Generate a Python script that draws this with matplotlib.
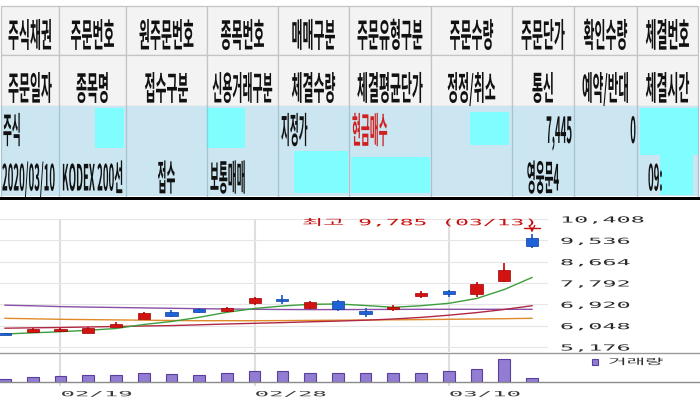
import matplotlib
matplotlib.use('Agg')
import matplotlib.pyplot as plt
import numpy as np
from matplotlib.patches import Rectangle
from matplotlib.lines import Line2D
from matplotlib.transforms import Affine2D
from matplotlib.patheffects import AbstractPathEffect
from matplotlib.ticker import FuncFormatter

# ---------------- data ----------------
header_row1 = ['주식채권', '주문번호', '원주문번호', '종목번호', '매매구분',
               '주문유형구분', '주문수량', '주문단가', '확인수량', '체결번호']
header_row2 = ['주문일자', '종목명', '접수구분', '신용거래구분', '체결수량',
               '체결평균단가', '정정/취소', '통신', '예약/반대', '체결시간']
data_row1 = ['주식', '', '', '', '지정가', '현금매수', '', '7,445', '0', '']
data_row2 = ['2020/03/10', 'KODEX 200선', '접수', '보통매매', '', '', '', '영웅문4', '', '09:']

dates = ['02/17', '02/18', '02/19', '02/20', '02/21', '02/24', '02/25', '02/26', '02/27', '02/28',
         '03/02', '03/03', '03/04', '03/05', '03/06', '03/09', '03/10', '03/11', '03/12', '03/13']
opens = [5715, 5790, 5850, 5745, 6040, 6330, 6610, 6670, 6650, 6960,
         7110, 6760, 7060, 6610, 6710, 7250, 7420, 7340, 7880, 9620]
highs = [5760, 5950, 6000, 6010, 6185, 6600, 6680, 6770, 6800, 7230,
         7300, 7060, 7100, 6760, 6880, 7470, 7520, 7850, 8600, 9785]
lows = [5660, 5780, 5790, 5740, 5980, 6320, 6410, 6560, 6620, 6900,
        6930, 6720, 6660, 6420, 6660, 7170, 7200, 7230, 7850, 9230]
closes = [5700, 5920, 5880, 5960, 6080, 6570, 6430, 6650, 6760, 7160,
          7090, 7020, 6730, 6590, 6830, 7400, 7380, 7740, 8320, 9290]
volume = [340, 500, 570, 670, 670, 940, 800, 740, 870, 1070,
          1070, 940, 940, 870, 870, 940, 1070, 1270, 2340, 440]
ma_green = [5707, 5756, 5801, 5859, 5932, 6096, 6218, 6390, 6594, 6750,
            6852, 6921, 6934, 6872, 6799, 6864, 6962, 7158, 7526, 8017]
ma_maroon = [5944, 5961, 5973, 5994, 6014, 6034, 6051, 6083, 6116, 6145,
             6173, 6206, 6235, 6271, 6320, 6386, 6476, 6582, 6709, 6864]
ma_orange = [6349, 6329, 6308, 6296, 6284, 6272, 6259, 6251, 6251, 6251,
             6255, 6263, 6272, 6280, 6288, 6296, 6308, 6321, 6333, 6349]
ma_purple = [6885, 6860, 6827, 6807, 6791, 6774, 6758, 6742, 6729, 6717,
             6709, 6705, 6705, 6709, 6713, 6717, 6717, 6717, 6717, 6717]
price_ticks = [5176, 6048, 6920, 7792, 8664, 9536, 10408]
date_ticks = ['02/19', '02/28', '03/10']
volume_label = '거래량'
high_label = '최고'

plt.rcParams['font.family'] = ['Noto Sans CJK KR', 'DejaVu Sans']


# ---------------- helpers ----------------
class Stretch(AbstractPathEffect):
    """Draws text scaled horizontally/vertically about its baseline."""
    def __init__(self, sx=1.0, sy=1.0, anchor='left'):
        super().__init__()
        self.sx, self.sy, self.anchor = sx, sy, anchor

    def draw_path(self, renderer, gc, tpath, affine, rgbFace=None):
        cx = 0.0
        if self.anchor != 'left':
            ext = tpath.get_extents()
            cx = (ext.x0 + ext.x1) / 2 if self.anchor == 'center' else ext.x1
        t = Affine2D().translate(-cx, 0).scale(self.sx, self.sy).translate(cx, 0)
        renderer.draw_path(gc, tpath, t + affine, rgbFace)


W, H = 700, 400
fig = plt.figure(figsize=(7, 4), dpi=100)
fig.patch.set_facecolor('white')

# ---------------- table (pixel layout) ----------------
bg = fig.add_axes([0, 0, 1, 1])
bg.set_xlim(0, W)
bg.set_ylim(H, 0)
bg.axis('off')

COL_X = [1, 59, 126, 207, 278, 349, 431, 512, 574, 637, 698]
ROW_Y = [6, 55, 106, 196]
HEAD_BG, HEAD_LINE = '#f3f3f3', '#c4c4c4'
DATA_BG, DATA_LINE = '#cbe6f1', '#a6c4d0'
MASK = '#80fdff'

for r in range(2):
    for c in range(10):
        bg.add_patch(Rectangle((COL_X[c], ROW_Y[r]), COL_X[c + 1] - COL_X[c],
                               ROW_Y[r + 1] - ROW_Y[r], fc=HEAD_BG, ec=HEAD_LINE, lw=0.9))
bg.add_patch(Rectangle((COL_X[0], ROW_Y[2]), COL_X[-1] - COL_X[0], ROW_Y[3] - ROW_Y[2],
                       fc=DATA_BG, ec='none'))
for xe in COL_X:
    bg.plot([xe, xe], [ROW_Y[2], ROW_Y[3]], color=DATA_LINE, lw=0.9)

masks = [(95, 108, 124, 148), (206, 108, 245, 148), (294, 151, 348, 193),
         (351, 157, 430, 193), (470, 112, 509, 145), (640, 108, 698, 155),
         (660, 155, 693, 195)]
for x0, y0, x1, y1 in masks:
    bg.add_patch(Rectangle((x0, y0), x1 - x0, y1 - y0, fc=MASK, ec='none'))

bg.add_patch(Rectangle((0, 196.5), W, 3.5, fc='black', ec='none'))

HEAD_SIZE, HEAD_SY = 8.6, 2.8
for r, row in enumerate([header_row1, header_row2]):
    base = [47.0, 100.0][r]
    for c, s in enumerate(row):
        colw = COL_X[c + 1] - COL_X[c]
        sx = min(1.0, (colw - 5) / (len(s) * 12.0))
        bg.text((COL_X[c] + COL_X[c + 1]) / 2, base, s, ha='center', va='baseline',
                fontsize=HEAD_SIZE, color='#111111', fontweight='bold',
                path_effects=[Stretch(sx, HEAD_SY, 'center')])

DATA_SIZE, DATA_SX, DATA_SY = 7.4, 0.94, 3.5
align1 = ['left', None, None, None, 'left', 'left', None, 'right', 'right', None]
align2 = ['left', 'left', 'center', 'left', None, None, None, 'center', None, 'left']
pads2 = [1, 3, 0, 3, 0, 0, 0, 0, 0, 11]
for row, aligns, base, pads in [(data_row1, align1, 143.0, [2, 0, 0, 0, 3, 3, 0, 2, 1, 0]),
                                (data_row2, align2, 190.5, pads2)]:
    for c, s in enumerate(row):
        if not s:
            continue
        a = aligns[c]
        if a == 'left':
            x = COL_X[c] + pads[c]
        elif a == 'right':
            x = COL_X[c + 1] - pads[c]
        else:
            x = (COL_X[c] + COL_X[c + 1]) / 2
        col = '#d02020' if s == '현금매수' else '#111111'
        bg.text(x, base, s, ha=a, va='baseline', fontsize=DATA_SIZE, color=col,
                fontweight='bold', path_effects=[Stretch(DATA_SX, DATA_SY, a)])

# ---------------- chart ----------------
def fax(x0, y0, x1, y1):
    return fig.add_axes([x0 / W, 1 - y1 / H, (x1 - x0) / W, (y1 - y0) / H])

n = len(dates)
idx = np.arange(n)
o, hi, lo, c = map(np.asarray, (opens, highs, lows, closes))
STEP, X0 = 27.737, 5.0
xlim = (-X0 / STEP, (548 - X0) / STEP)
date_idx = [dates.index(d) for d in date_ticks]

axp = fax(0, 219, 548, 352)
axv = fax(0, 354, 548, 382)
for a in (axp, axv):
    a.set_xlim(*xlim)
    a.set_facecolor('none')
    for sp in a.spines.values():
        sp.set_visible(False)
    a.set_axisbelow(True)

axp.set_ylim(4971.6, 10408)
axp.set_yticks(price_ticks)
axp.set_xticks(date_idx)
axp.grid(axis='y', color='#e6e6e6', lw=0.8)
axp.grid(axis='x', color='#dedede', lw=1.5)
axp.tick_params(axis='x', length=0, labelbottom=False)
axp.yaxis.tick_right()
axp.yaxis.set_major_formatter(FuncFormatter(lambda v, p: f'{int(round(v)):,}'))
axp.tick_params(axis='y', length=0, pad=8.6, labelsize=6, labelcolor='#2a2a2a')
for lbl in axp.get_yticklabels():
    lbl.set_family('DejaVu Sans Mono')
    lbl.set_path_effects([Stretch(2.82, 1.0, 'left')])

# moving averages
axp.plot(idx, ma_purple, color='#8a4fa6', lw=1.0, zorder=2)
axp.plot(idx, ma_orange, color='#e08a2a', lw=1.0, zorder=2)
axp.plot(idx, ma_maroon, color='#b02844', lw=1.0, zorder=2)
axp.plot(idx, ma_green, color='#3c9e3c', lw=1.0, zorder=2)

# candles
RED, RED_E = '#d31212', '#a00000'
BLUE, BLUE_E = '#1f62d8', '#0a3e9c'
up = c >= o
fc = np.where(up, RED, BLUE)
ec = np.where(up, RED_E, BLUE_E)
axp.vlines(idx, lo, hi, colors=fc, lw=1.3, zorder=3)
MINB = 110
diff = np.abs(c - o)
bh = np.maximum(diff, MINB)
bb = np.where(diff < MINB, (o + c) / 2 - MINB / 2, np.minimum(o, c))
axp.bar(idx, bh, bottom=bb, width=0.44, color=fc, edgecolor=ec, lw=0.5, zorder=4)

# high annotation
k = int(np.argmax(hi))
axp.annotate(f'{high_label} {hi[k]:,} ({dates[k]})', xy=(k, hi[k]), xytext=(-230, 9),
             textcoords='offset pixels', ha='left', va='baseline', fontsize=6,
             color='#c81010', family=['DejaVu Sans Mono', 'Noto Sans CJK KR'],
             path_effects=[Stretch(2.76, 1.05, 'left')], annotation_clip=False)
axp.annotate('', xy=(k, hi[k]), xytext=(0, 6.5), textcoords='offset pixels',
             arrowprops=dict(arrowstyle=']->, widthA=0.6, lengthA=0', color='#c81010',
                             lw=1.0, shrinkA=0, shrinkB=1.2), annotation_clip=False)

# volume
axv.set_ylim(0, 2800)
axv.set_yticks([])
vbars = axv.bar(idx, volume, width=0.42, color='#937dd2', edgecolor='#5b3f9f', lw=0.8, zorder=3)
axv.set_xticks(date_idx, date_ticks)
axv.grid(axis='x', color='#dedede', lw=1.5)
axv.tick_params(axis='x', length=3, width=1.5, color='#dedede', pad=2.2,
                labelsize=6, labelcolor='#3a3a3a')
for lbl in axv.get_xticklabels():
    lbl.set_ha('left')
    lbl.set_family('DejaVu Sans Mono')
    lbl.set_path_effects([Stretch(2.88, 0.85, 'left')])

leg = axv.legend([vbars], [volume_label], loc='center left',
                 bbox_to_anchor=(592 / W, 1 - 362 / H), bbox_transform=fig.transFigure,
                 frameon=False, handlelength=0.75, handleheight=0.75, handletextpad=1.2,
                 borderpad=0, borderaxespad=0, prop={'family': 'Noto Sans CJK KR', 'size': 6})
for t in leg.get_texts():
    t.set_color('#333333')
    t.set_path_effects([Stretch(2.4, 1.0, 'left')])

# panel lines
fig.add_artist(Line2D([0, 1], [1 - 353 / H] * 2, transform=fig.transFigure, color='#9a9a9a', lw=1.0))
fig.add_artist(Line2D([0, 1], [1 - 382 / H] * 2, transform=fig.transFigure, color='#8a8a8a', lw=1.0))

fig.savefig('out.png', dpi=100, facecolor='white')
